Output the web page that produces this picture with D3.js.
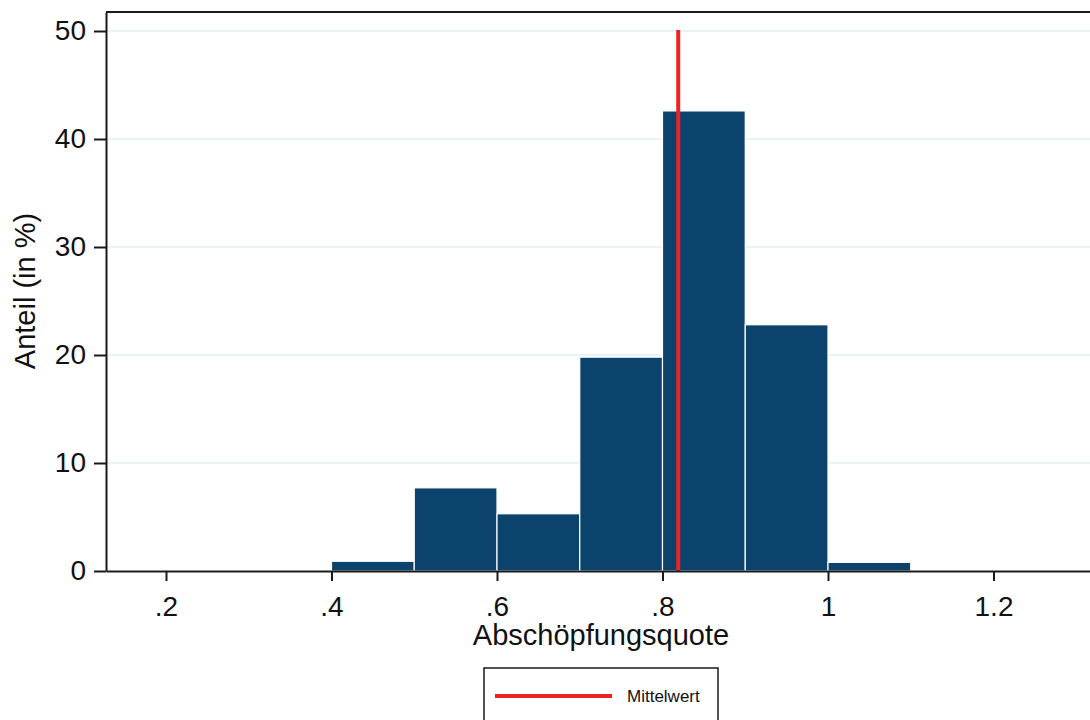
<!DOCTYPE html>
<html>
<head>
<meta charset="utf-8">
<script src="https://cdn.jsdelivr.net/npm/d3@7"></script>
<style>
  html, body { margin: 0; padding: 0; background: #ffffff; }
  svg { display: block; }
  text { font-family: "Liberation Sans", Arial, sans-serif; fill: #111; }
</style>
</head>
<body>
<svg id="chart" width="1090" height="720"></svg>
<script>
// Data
const binStarts = [0.4, 0.5, 0.6, 0.7, 0.8, 0.9, 1.0];
const binWidth = 0.1;
const shares = [0.9, 7.7, 5.3, 19.8, 42.6, 22.8, 0.8];
const meanValue = 0.819;
const xTicks = [0.2, 0.4, 0.6, 0.8, 1.0, 1.2];
const xTickLabels = [".2", ".4", ".6", ".8", "1", "1.2"];
const yTicks = [0, 10, 20, 30, 40, 50];
const xTitle = "Abschöpfungsquote";
const yTitle = "Anteil (in %)";
const legendLabel = "Mittelwert";

const svg = d3.select("#chart");
const pL = 106, pR = 1100, pT = 12, pB = 571;

const x = d3.scaleLinear().domain([0.1275, 0.1275 + (pR - pL) / 827.5]).range([pL, pR]);
const y = d3.scaleLinear().domain([0, (pB - pT) / 10.8]).range([pB, pT]);

// gridlines
svg.append("g").selectAll("line").data(yTicks.filter(d => d > 0)).join("line")
  .attr("x1", pL).attr("x2", pR)
  .attr("y1", d => y(d)).attr("y2", d => y(d))
  .attr("stroke", "#e3eff5").attr("stroke-width", 1.5);

// bars
svg.append("g").selectAll("rect").data(binStarts).join("rect")
  .attr("x", d => x(d))
  .attr("width", d => x(d + binWidth) - x(d))
  .attr("y", (d, i) => y(shares[i]))
  .attr("height", (d, i) => y(0) - y(shares[i]))
  .attr("fill", "#0b436d")
  .attr("stroke", "#ffffff").attr("stroke-width", 1.2);

// mean line
svg.append("line")
  .attr("x1", x(meanValue)).attr("x2", x(meanValue))
  .attr("y1", y(50) - 1).attr("y2", y(0))
  .attr("stroke", "#ee2222").attr("stroke-width", 4);

// plot frame (top)
svg.append("line").attr("x1", pL).attr("x2", pR).attr("y1", pT).attr("y2", pT)
  .attr("stroke", "#1a1a1a").attr("stroke-width", 2);

// axes
const xAxis = d3.axisBottom(x).tickValues(xTicks)
  .tickFormat((d, i) => xTickLabels[i]).tickSizeOuter(0).tickSizeInner(10).tickPadding(15);
const gx = svg.append("g").attr("transform", `translate(0,${pB})`).call(xAxis);
gx.select(".domain").attr("stroke", "#1a1a1a").attr("stroke-width", 2);
gx.selectAll(".tick line").attr("stroke", "#1a1a1a").attr("stroke-width", 2);
gx.selectAll(".tick text").attr("font-size", 28).attr("fill", "#111")
  .attr("font-family", "Liberation Sans, Arial, sans-serif");

const yAxis = d3.axisLeft(y).tickValues(yTicks).tickSizeOuter(0).tickSizeInner(12).tickPadding(8);
const gy = svg.append("g").attr("transform", `translate(${pL},0)`).call(yAxis);
gy.select(".domain").attr("stroke", "#1a1a1a").attr("stroke-width", 2);
gy.selectAll(".tick line").attr("stroke", "#1a1a1a").attr("stroke-width", 2);
gy.selectAll(".tick text").attr("font-size", 28).attr("fill", "#111")
  .attr("font-family", "Liberation Sans, Arial, sans-serif");

// titles
svg.append("text").attr("x", 601).attr("y", 645).attr("text-anchor", "middle")
  .attr("font-size", 29).text(xTitle);
svg.append("text").attr("transform", `translate(35,291) rotate(-90)`).attr("text-anchor", "middle")
  .attr("font-size", 29).text(yTitle);

// legend
svg.append("rect").attr("x", 484).attr("y", 668).attr("width", 234).attr("height", 60)
  .attr("fill", "#fff").attr("stroke", "#1a1a1a").attr("stroke-width", 1.5);
svg.append("line").attr("x1", 495).attr("x2", 612).attr("y1", 696).attr("y2", 696)
  .attr("stroke", "#ee2222").attr("stroke-width", 4);
svg.append("text").attr("x", 627).attr("y", 702).attr("font-size", 17).text(legendLabel);
</script>
</body>
</html>
